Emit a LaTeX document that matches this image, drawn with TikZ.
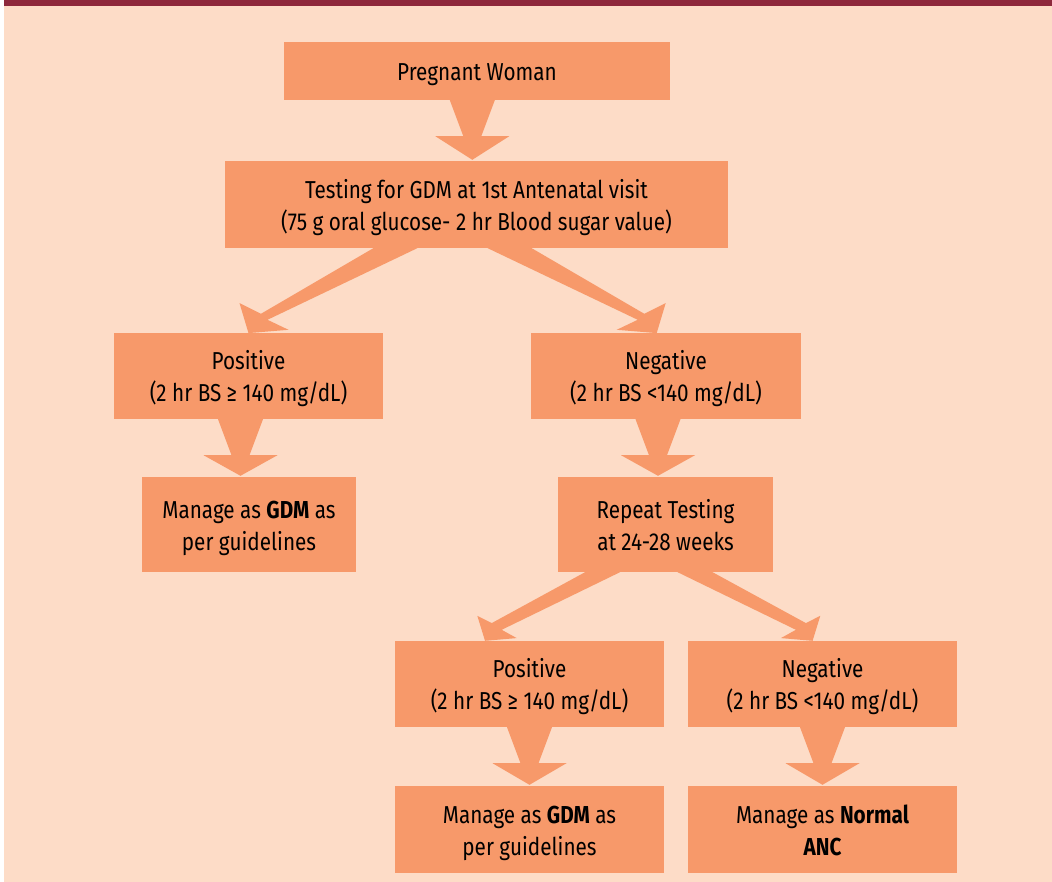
\documentclass[tikz,border=0pt]{standalone}
\usepackage{fontspec}
\setmainfont[FakeStretch=0.845]{Fira Sans}
\usetikzlibrary{calc}
\definecolor{bgc}{HTML}{FDDCC7}
\definecolor{barc}{HTML}{8E283C}
\definecolor{boxc}{HTML}{F7996A}
\newcommand\tstrut{\rule{0pt}{27.5pt}}
\newcommand\bstrut{\rule[-8pt]{0pt}{8pt}}
\tikzset{
  box/.style={fill=boxc, inner sep=0pt, align=center, text=black,
    font=\fontsize{24.5}{31.7}\selectfont},
  arrowfill/.style={fill=boxc}
}
\newcommand\vArrow[3]{%
  \fill[arrowfill] let \p1=($(#1.south)+(#3,0)$), \p2=(#2.north) in
    (\x1-22.5pt,\y1) -- (\x1+22.5pt,\y1) -- (\x1+9pt,\y1-36pt) -- (\x1+37pt,\y1-36pt)
    -- (\x1,\y2+1pt) -- (\x1-37pt,\y1-36pt) -- (\x1-9pt,\y1-36pt) -- cycle;}
\begin{document}
\begin{tikzpicture}[x=1pt,y=-1pt]
\useasboundingbox (0,0) rectangle (1052,882);
\fill[bgc] (3.5,0) rectangle (1052,882);
\fill[barc] (3.5,0) rectangle (1052,6);

\node[box, minimum width=386pt, minimum height=58pt] (b1) at (477,71) {\rule{0pt}{26.5pt}Pregnant Woman\bstrut};
\node[box, minimum width=503pt, minimum height=87pt] (b2) at (476.5,204.5) {\tstrut Testing for GDM at 1st Antenatal visit\\(75 g oral glucose- 2 hr Blood sugar value)\bstrut};
\node[box, minimum width=269pt, minimum height=86pt] (b3) at (248.5,376) {\tstrut Positive\\(2 hr BS ≥ 140 mg/dL)\bstrut};
\node[box, minimum width=270pt, minimum height=86pt] (b4) at (666,376) {\tstrut Negative\\(2 hr BS <140 mg/dL)\bstrut};
\node[box, minimum width=214pt, minimum height=95pt] (b5) at (249,524.5) {\tstrut Manage as \textbf{GDM} as\\per guidelines\bstrut};
\node[box, minimum width=215pt, minimum height=95pt] (b6) at (665.5,524.5) {\tstrut Repeat Testing\\at 24-28 weeks\bstrut};
\node[box, minimum width=269pt, minimum height=86pt] (b7) at (529.5,684) {\tstrut Positive\\(2 hr BS ≥ 140 mg/dL)\bstrut};
\node[box, minimum width=269pt, minimum height=86pt] (b8) at (822.5,684) {\tstrut Negative\\(2 hr BS <140 mg/dL)\bstrut};
\node[box, minimum width=269pt, minimum height=87pt] (b9) at (529.5,829.5) {\tstrut Manage as \textbf{GDM} as\\per guidelines\bstrut};
\node[box, minimum width=269pt, minimum height=87pt] (b10) at (822.5,829.5) {\tstrut Manage as \textbf{Normal}\\\textbf{ANC}\bstrut};

% vertical arrows
\vArrow{b1}{b2}{-4.7}
\vArrow{b3}{b5}{-8}
\vArrow{b4}{b6}{-8}
\vArrow{b7}{b9}{0}
\vArrow{b8}{b10}{0}

% diagonal arrows, upper split
\coordinate (t1) at ($(b3.north)+(0,0.3)$);
\fill[arrowfill] ($(b2.south)+(-103.2,0)$) -- ($(t1)+(12.4,-19.3)$) -- ($(t1)+(-9,-30)$)
  -- (t1) -- ($(t1)+(40,-3.3)$) -- ($(t1)+(19,-13.3)$) -- ($(b2.south)+(-59.2,0)$) -- cycle;
\coordinate (t2) at ($(b4.north)+(-9.3,0.3)$);
\fill[arrowfill] ($(b2.south)+(55.2,0)$) -- ($(t2)+(-12.4,-19.3)$) -- ($(t2)+(9,-30)$)
  -- (t2) -- ($(t2)+(-40,-3.3)$) -- ($(t2)+(-19,-13.3)$) -- ($(b2.south)+(11.2,0)$) -- cycle;

% diagonal arrows, lower split
\coordinate (t3) at ($(b7.north)+(-44.5,0)$);
\fill[arrowfill] ($(b6.south)+(-80.5,0)$) -- ($(t3)+(6.7,-17.7)$) -- ($(t3)+(-7.7,-25)$)
  -- (t3) -- ($(t3)+(31.7,-2.7)$) -- ($(t3)+(16.7,-11)$) -- ($(b6.south)+(-45.5,0)$) -- cycle;
\coordinate (t4) at ($(b8.north)+(-9.9,0)$);
\fill[arrowfill] ($(b6.south)+(47.1,0)$) -- ($(t4)+(-6.7,-17.7)$) -- ($(t4)+(7.7,-25)$)
  -- (t4) -- ($(t4)+(-31.7,-2.7)$) -- ($(t4)+(-16.7,-11)$) -- ($(b6.south)+(12.1,0)$) -- cycle;
\end{tikzpicture}
\end{document}
